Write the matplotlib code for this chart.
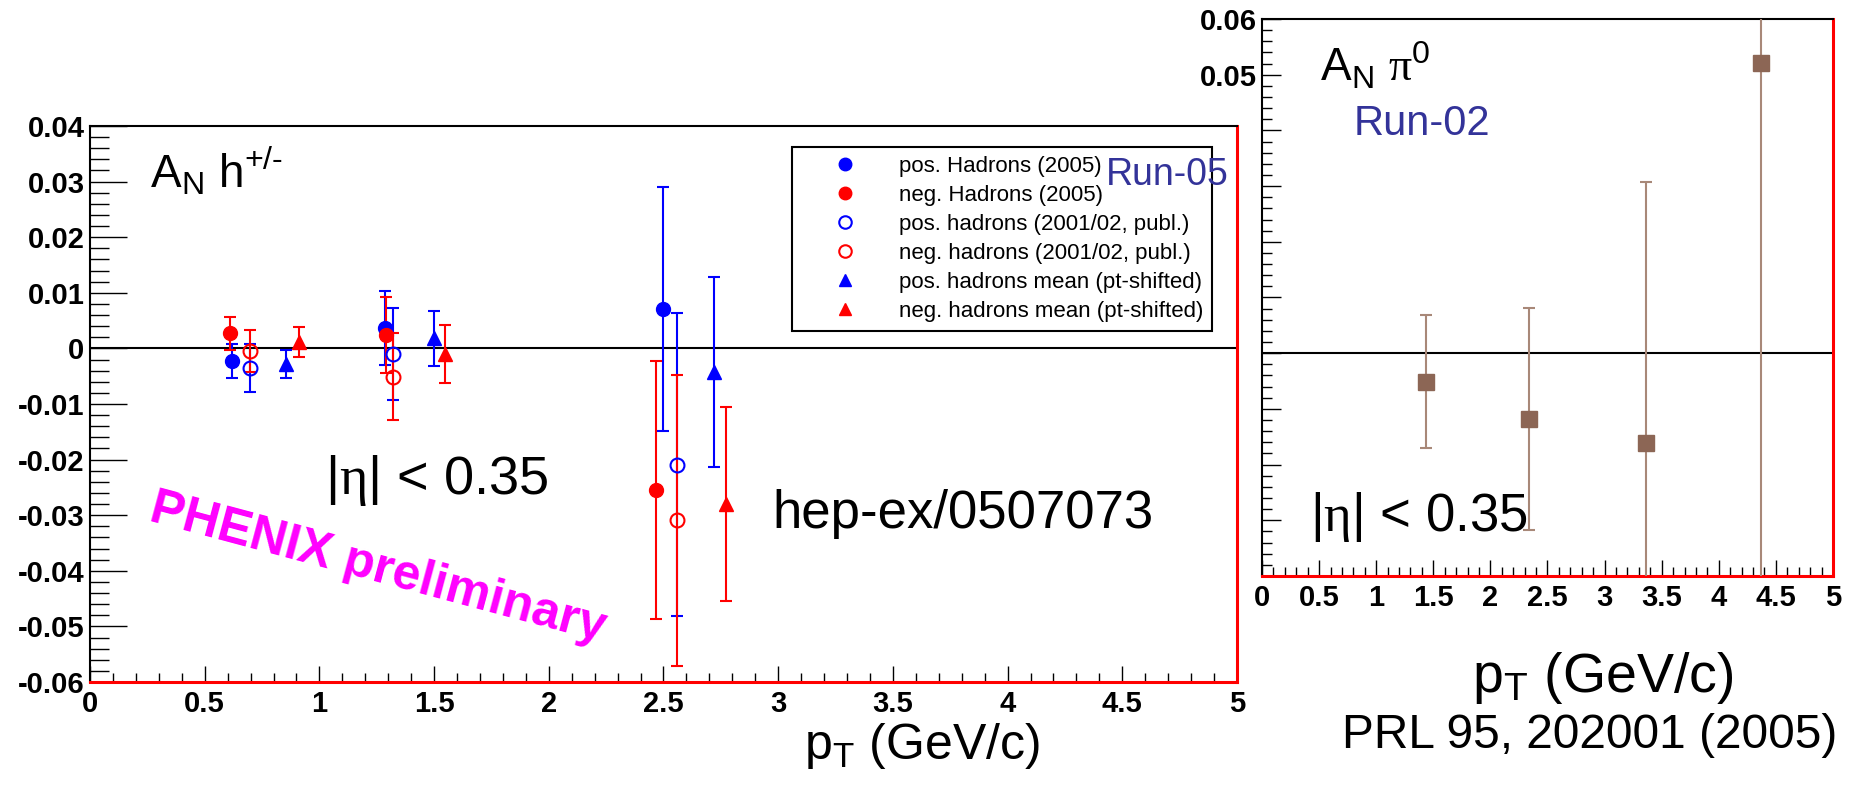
# A_N of charged hadrons and pi0 vs pT, PHENIX (two panels, ROOT look)

import numpy as np
import matplotlib
matplotlib.use("Agg")
from matplotlib import pyplot as plt
from matplotlib.ticker import MultipleLocator

plt.rcParams['font.family'] = ['Liberation Sans', 'DejaVu Sans']
plt.rcParams['mathtext.fontset'] = 'custom'
plt.rcParams['mathtext.rm'] = 'Liberation Sans'
plt.rcParams['mathtext.it'] = 'Liberation Sans:italic'
plt.rcParams['mathtext.bf'] = 'Liberation Serif'

# ---- left panel data (Run-05 + 2001/02) ----
pt_pos05 = [0.618, 1.286, 2.497]
an_pos05 = [-0.0023, 0.0037, 0.0071]
er_pos05 = [0.0031, 0.0067, 0.0220]

pt_neg05 = [0.610, 1.290, 2.467]
an_neg05 = [0.0027, 0.0024, -0.0254]
er_neg05 = [0.0030, 0.0068, 0.0232]

pt_pos02 = [0.699, 1.319, 2.560]
an_pos02 = [-0.0035, -0.0010, -0.0209]
er_pos02 = [0.0043, 0.0083, 0.0272]

pt_neg02 = [0.699, 1.319, 2.560]
an_neg02 = [-0.0005, -0.0051, -0.0309]
er_neg02 = [0.0038, 0.0078, 0.0262]

pt_posmean = [0.854, 1.500, 2.719]
an_posmean = [-0.0028, 0.0018, -0.0042]
er_posmean = [0.0025, 0.0050, 0.0171]

pt_negmean = [0.911, 1.548, 2.772]
an_negmean = [0.0012, -0.0010, -0.0280]
er_negmean = [0.0027, 0.0052, 0.0174]

legend_labels = ["pos. Hadrons (2005)", "neg. Hadrons (2005)",
                 "pos. hadrons (2001/02, publ.)", "neg. hadrons (2001/02, publ.)",
                 "pos. hadrons mean (pt-shifted)", "neg. hadrons mean (pt-shifted)"]

# ---- right panel data (pi0, Run-02) ----
pt_pi0 = [1.44, 2.34, 3.36, 4.37]
an_pi0 = [-0.0051, -0.0118, -0.0161, 0.0521]
er_pi0 = [0.0119, 0.0199, 0.0468, 0.1000]

x_ticks = [0, 0.5, 1, 1.5, 2, 2.5, 3, 3.5, 4, 4.5, 5]
x_labels = ["0", "0.5", "1", "1.5", "2", "2.5", "3", "3.5", "4", "4.5", "5"]
yl_ticks = [-0.06, -0.05, -0.04, -0.03, -0.02, -0.01, 0, 0.01, 0.02, 0.03, 0.04]
yl_labels = ["-0.06", "-0.05", "-0.04", "-0.03", "-0.02", "-0.01", "0",
             "0.01", "0.02", "0.03", "0.04"]
yr_ticks = [-0.04, -0.03, -0.02, -0.01, 0, 0.01, 0.02, 0.03, 0.04, 0.05, 0.06]
yr_labels = ["", "", "", "", "", "", "", "", "", "0.05", "0.06"]

fig = plt.figure(figsize=(18.54, 7.88), dpi=100)
ax = fig.add_axes([0.04854, 0.13452, 0.61866, 0.70558])
ax2 = fig.add_axes([0.68069, 0.26904, 0.30798, 0.70685])


def root_frame(a, ylen, ylen_minor):
    for s in ["left", "top"]:
        a.spines[s].set_color("black")
        a.spines[s].set_linewidth(1.5)
    for s in ["bottom", "right"]:
        a.spines[s].set_color("red")
        a.spines[s].set_linewidth(2.2)
    a.xaxis.set_minor_locator(MultipleLocator(0.1))
    a.yaxis.set_minor_locator(MultipleLocator(0.002))
    a.tick_params(axis="x", which="major", direction="in", length=11.5, width=1, pad=6)
    a.tick_params(axis="x", which="minor", direction="in", length=6.5, width=1)
    a.tick_params(axis="y", which="major", direction="in", length=ylen, width=1, pad=4)
    a.tick_params(axis="y", which="minor", direction="in", length=ylen_minor, width=1)
    a.tick_params(top=False, right=False, which="both")
    for lab in a.get_xticklabels() + a.get_yticklabels():
        lab.set_fontweight("bold")
        lab.set_fontsize(21)


# ---------------- left panel ----------------
ax.set_xlim(0, 5)
ax.set_ylim(-0.06, 0.04)
ax.set_xticks(x_ticks, x_labels)
ax.set_yticks(yl_ticks, yl_labels)
ax.axhline(0, color="black", lw=1.5, zorder=1)

eb = dict(capsize=4, elinewidth=1.5, capthick=1.5, ms=10, ls="none", zorder=3)
h1 = ax.errorbar(pt_pos05, an_pos05, yerr=er_pos05, fmt="o", color="#0000ff", **eb)
h2 = ax.errorbar(pt_neg05, an_neg05, yerr=er_neg05, fmt="o", color="#ff0000", **eb)
h3 = ax.errorbar(pt_pos02, an_pos02, yerr=er_pos02, fmt="o", color="#0000ff",
                 mfc="none", mew=1.5, **eb)
h4 = ax.errorbar(pt_neg02, an_neg02, yerr=er_neg02, fmt="o", color="#ff0000",
                 mfc="none", mew=1.5, **eb)
h5 = ax.errorbar(pt_posmean, an_posmean, yerr=er_posmean, fmt="^", color="#0000ff", **eb)
h6 = ax.errorbar(pt_negmean, an_negmean, yerr=er_negmean, fmt="^", color="#ff0000", **eb)

leg = ax.legend([h[0] for h in [h1, h2, h3, h4, h5, h6]], legend_labels,
                loc="upper left", bbox_to_anchor=(0.612, 0.962), borderaxespad=0,
                fontsize=16, handlelength=4.0, handletextpad=0.42, labelspacing=0.36,
                borderpad=0.4, fancybox=False, framealpha=1, edgecolor="black",
                markerscale=0.9)
leg.get_frame().set_linewidth(1.5)

root_frame(ax, 26.5, 13.5)

ax.text(0.263, 0.0290, r"A$_{\mathrm{N}}$ h$^{+/\text{-}}$", fontsize=33)
ax.text(4.429, 0.0294, "Run-05", fontsize=27, color="#333399", zorder=10)
ax.text(1.024, -0.0262, r"|$\mathbf{\eta}$| < 0.35", fontsize=39)
ax.text(2.973, -0.0323, "hep-ex/0507073", fontsize=38)
ax.text(1.255, -0.0396, "PHENIX preliminary", fontsize=36, fontweight="bold",
        color="#ff00ff", rotation=-15, ha="center", va="center",
        rotation_mode="anchor")

# ---------------- right panel ----------------
ax2.set_xlim(0, 5)
ax2.set_ylim(-0.04, 0.06)
ax2.set_xticks(x_ticks, x_labels)
ax2.set_yticks(yr_ticks, yr_labels)
ax2.axhline(0, color="black", lw=1.5, zorder=1)
ax2.errorbar(pt_pi0, an_pi0, yerr=er_pi0, fmt="s", color="#8c6655", ecolor="#a88878",
             ms=11, capsize=4, elinewidth=1.5, capthick=1.5, zorder=3)

root_frame(ax2, 13.7, 7.2)

ax2.text(0.508, 0.0487, r"A$_{\mathrm{N}}$ $\mathbf{\pi}^{0}$", fontsize=33)
ax2.text(0.80, 0.0392, "Run-02", fontsize=30, color="#333399")
ax2.text(0.416, -0.0319, r"|$\mathbf{\eta}$| < 0.35", fontsize=38)

# axis titles and reference
fig.text(0.4337, 0.037, r"p$_{\mathrm{T}}$ (GeV/c)", fontsize=36)
fig.text(0.7940, 0.122, r"p$_{\mathrm{T}}$ (GeV/c)", fontsize=40)
fig.text(0.7238, 0.051, "PRL 95, 202001 (2005)", fontsize=34.5)

plt.savefig("out.png", dpi=100)
